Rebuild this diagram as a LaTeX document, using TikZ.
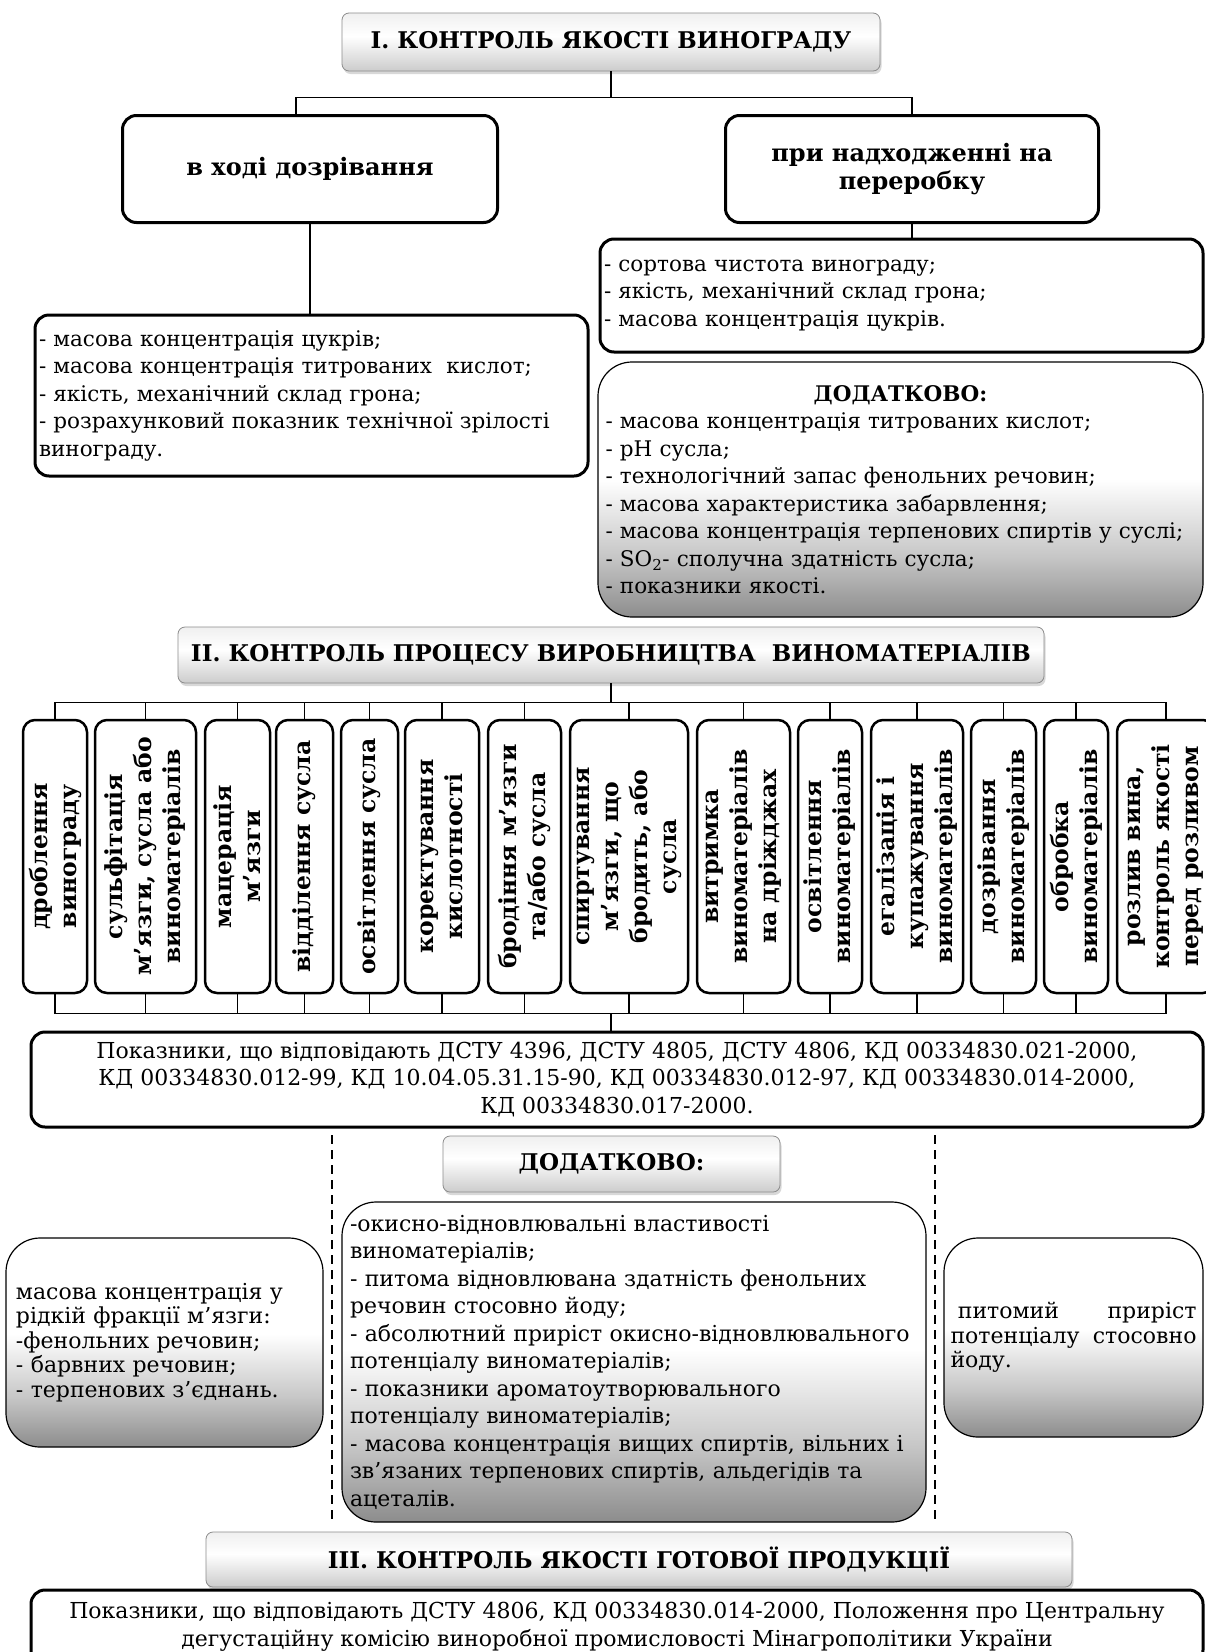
\documentclass[tikz,border=0pt]{standalone}
\usepackage{fontspec}
\setmainfont{DejaVu Serif}
\usetikzlibrary{shadows}
\usetikzlibrary{arrows.meta}
\usetikzlibrary{calc,positioning}

\pgfdeclareverticalshading{panelfade}{100bp}{color(0bp)=(black!45); color(25bp)=(black!45); color(37bp)=(black!22); color(52bp)=(white); color(100bp)=(white)}
\pgfdeclareverticalshading{headfade}{100bp}{color(0bp)=(black!20); color(25bp)=(black!20); color(55bp)=(white); color(75bp)=(black!6); color(100bp)=(black!6)}

\newcommand\listsize{\fontsize{21.5}{27.5}\selectfont}
\newcommand\notesize{\fontsize{22}{27.5}\selectfont}
\newcommand\sidesize{\fontsize{22}{24.5}\selectfont}
\newcommand\headsize{\fontsize{23}{28}\selectfont\bfseries}
\newcommand\boxsize{\fontsize{24}{28}\selectfont\bfseries}
\newcommand\stagesize{\fontsize{23.5}{29}\selectfont\bfseries}

\begin{document}
\begin{tikzpicture}[x=1pt, y=-1pt,
    headbox/.style={draw=black!45, line width=0.8pt, rounded corners=7pt, shading=headfade,
        drop shadow={opacity=0.3, shadow xshift=1.5pt, shadow yshift=-3pt},
        font=\headsize, inner sep=0pt, align=center},
    thickbox/.style={draw, line width=3pt, rounded corners=14pt, fill=white, inner sep=0pt},
    panel/.style={draw, line width=1.2pt, rounded corners=34pt, shading=panelfade, inner sep=0pt},
    stage/.style={draw, line width=2.5pt, rounded corners=12pt, fill=white, rotate=90,
        minimum width=273pt, text width=262pt, align=center, font=\stagesize, inner sep=0pt},
    link/.style={line width=1.5pt}]

    \fill[white, use as bounding box] (0,0) rectangle (1205,1652);

    \node[headbox, minimum width=538pt, minimum height=58pt] (t1) at (611,42) {I. КОНТРОЛЬ ЯКОСТІ ВИНОГРАДУ};
    \node[thickbox, font=\boxsize, align=center, minimum width=375pt, minimum height=107pt] (b1) at (310,169) {в ході дозрівання};
    \node[thickbox, font=\boxsize, align=center, minimum width=373pt, minimum height=107pt] (b2) at (912,169) {при надходженні на\\переробку};

    \node[thickbox, font=\listsize, align=left, text width=545pt, minimum width=553pt, minimum height=161pt] (l1) at (311.5,395.5)
        {- масова концентрація цукрів;\\- масова концентрація титрованих~ кислот;\\- якість, механічний склад грона;\\- розрахунковий показник технічної зрілості\\винограду.};
    \node[thickbox, font=\listsize, align=left, text width=595pt, minimum width=603pt, minimum height=113pt] (r1) at (901.5,295.5)
        {- сортова чистота винограду;\\- якість, механічний склад грона;\\- масова концентрація цукрів.};
    \node[panel, font=\listsize, align=left, text width=590pt, minimum width=605pt, minimum height=255pt] (r2) at (900.5,489.5)
        {\makebox[\linewidth]{\bfseries ДОДАТКОВО:}\\- масова концентрація титрованих кислот;\\- pH сусла;\\- технологічний запас фенольних речовин;\\- масова характеристика забарвлення;\\- масова концентрація терпенових спиртів у суслі;\\- SO\textsubscript{2}- сполучна здатність сусла;\\- показники якості.};

    \draw[link] (t1.south) -- ++(0,26) coordinate (fork1);
    \draw[link] ([xshift=-14pt]b1.north) |- (fork1) -| (b2.north);
    \draw[link] (b1.south) -- (b1.south |- l1.north);
    \draw[link] (b2.south) -- (b2.south |- r1.north);

    \node[headbox, minimum width=866pt, minimum height=56pt] (t2) at (611,655) {II. КОНТРОЛЬ ПРОЦЕСУ ВИРОБНИЦТВА\ \ ВИНОМАТЕРІАЛІВ};

    \foreach \cx/\bw/\lbl [count=\i] in {
        55/64/{дроблення\\винограду},
        145.5/101/{сульфітація\\м’язги, сусла або\\виноматеріалів},
        237.5/65/{мацерація\\м’язги},
        304.5/57/{відділення сусла},
        369.5/57/{освітлення сусла},
        442/74/{коректування\\кислотності},
        524.5/73/{бродіння м’язги\\та/або сусла},
        629/118/{спиртування\\м’язги, що\\бродить, або\\сусла},
        743.5/93/{витримка\\виноматеріалів\\на дріжджах},
        830/64/{освітлення\\виноматеріалів},
        917/92/{егалізація і\\купажування\\виноматеріалів},
        1003.5/65/{дозрівання\\виноматеріалів},
        1076/64/{обробка\\виноматеріалів},
        1166/98/{розлив вина,\\контроль якості\\перед розливом}}
        \node[stage, minimum height=\bw pt] (v\i) at (\cx,856.5) {\lbl};

    \node[thickbox, font=\notesize, align=center, minimum width=1172pt, minimum height=95pt] (dstu) at (617,1079.5)
        {Показники, що відповідають ДСТУ 4396, ДСТУ 4805, ДСТУ 4806, КД 00334830.021-2000,\\КД 00334830.012-99, КД 10.04.05.31.15-90, КД 00334830.012-97, КД 00334830.014-2000,\\КД 00334830.017-2000.};

    % rotated stages: east = top, west = bottom
    \draw[link] (t2.south) -- ++(0,19) coordinate (fork2);
    \draw[link] (v1.east) |- (fork2) -| (v14.east);
    \foreach \i in {2,...,13}
        \draw[link] (v\i.east) -- (v\i.east |- fork2);
    \path (v1.west) ++(0,19) coordinate (fork3);
    \draw[link] (v1.west) -- (fork3) -| (v14.west);
    \foreach \i in {2,...,13}
        \draw[link] (v\i.west) -- (v\i.west |- fork3);
    \draw[link] (t2.south |- fork3) -- (t2.south |- dstu.north);

    \draw[line width=1.2pt, dash pattern=on 9pt off 6pt] (332,1135) -- (332,1522);
    \draw[line width=1.2pt, dash pattern=on 9pt off 6pt] (935,1135) -- (935,1522);

    \node[headbox, minimum width=337pt, minimum height=56pt] (dod) at (611.5,1164) {ДОДАТКОВО:};
    \node[panel, font=\notesize, align=left, text width=568pt, minimum width=584pt, minimum height=320pt] (mid) at (634,1362)
        {-окисно-відновлювальні властивості\\виноматеріалів;\\- питома відновлювана здатність фенольних\\речовин стосовно йоду;\\- абсолютний приріст окисно-відновлювального\\потенціалу виноматеріалів;\\- показники ароматоутворювального\\потенціалу виноматеріалів;\\- масова концентрація вищих спиртів, вільних і\\зв’язаних терпенових спиртів, альдегідів та\\ацеталів.};
    \node[panel, font=\sidesize, align=left, text width=297pt, minimum width=317pt, minimum height=209pt] (lb) at (164.5,1342.5)
        {масова концентрація у\\рідкій фракції м’язги:\\-фенольних речовин;\\- барвних речовин;\\- терпенових з’єднань.};
    \node[panel, font=\sidesize, align=left, text width=246pt, minimum width=259pt, minimum height=199pt] (rb) at (1073.5,1337.5)
        {\ питомий\hfill приріст\\потенціалу\hfill стосовно\\йоду.};

    \node[headbox, minimum width=866pt, minimum height=55pt] (t3) at (639,1559.5) {III. КОНТРОЛЬ ЯКОСТІ ГОТОВОЇ ПРОДУКЦІЇ};
    \node[thickbox, font=\notesize, align=center, minimum width=1172pt, minimum height=74pt] (fin) at (617,1627)
        {Показники, що відповідають ДСТУ 4806, КД 00334830.014-2000, Положення про Центральну\\дегустаційну комісію виноробної промисловості Мінагрополітики України};

\end{tikzpicture}
\end{document}
